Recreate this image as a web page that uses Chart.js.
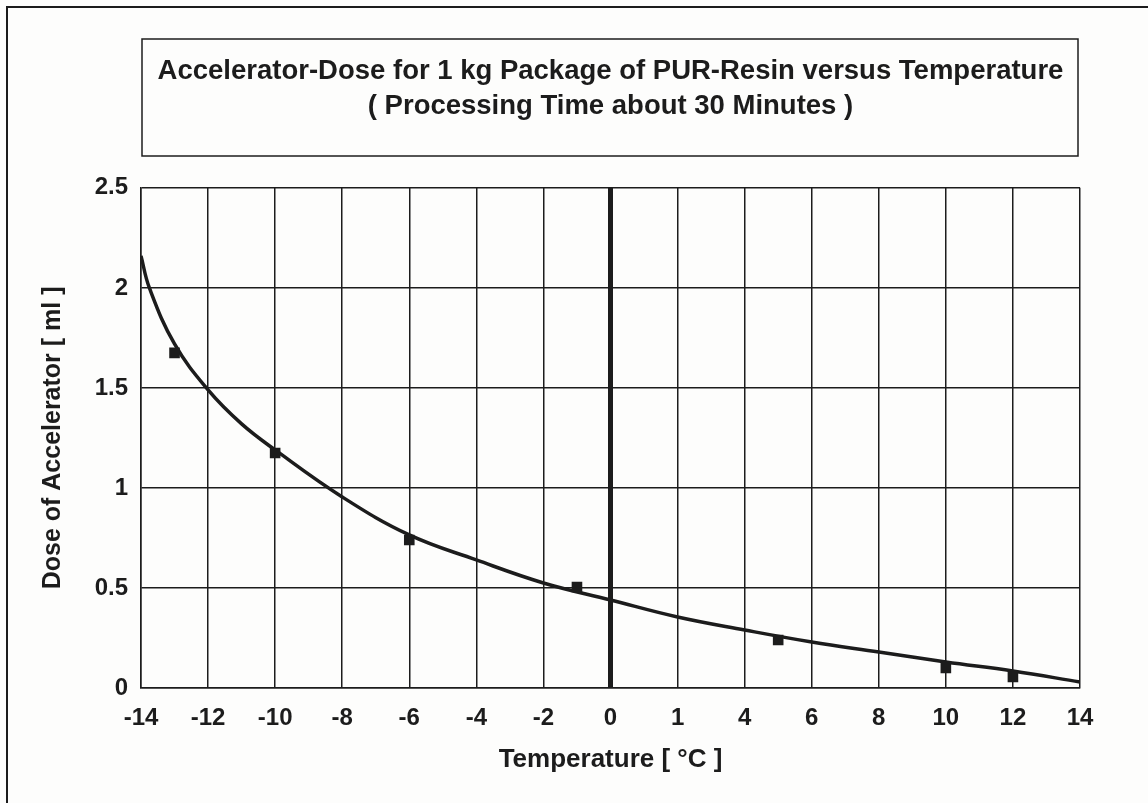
<!DOCTYPE html>
<html>
<head>
<meta charset="utf-8">
<script src="https://cdn.jsdelivr.net/npm/chart.js@4/dist/chart.umd.min.js"></script>
<style>
  html, body { margin: 0; padding: 0; background: #fdfdfc; }
  #wrap { width: 1148px; height: 803px; position: relative; }
</style>
</head>
<body>
<div id="wrap"><canvas id="c" width="1148" height="803"></canvas></div>
<script>
// ---- data ----
const titleLines = ['Accelerator-Dose for 1 kg Package of PUR-Resin versus Temperature', '( Processing Time about 30 Minutes )'];
const xAxisTitle = 'Temperature [ \u00B0C ]';
const yAxisTitle = 'Dose of Accelerator [ ml ]';
const xTickValues = [-14, -12, -10, -8, -6, -4, -2, 0, 2, 4, 6, 8, 10, 12, 14];
const xTickLabels = ['-14', '-12', '-10', '-8', '-6', '-4', '-2', '0', '1', '4', '6', '8', '10', '12', '14'];
const measuredTemps = [-13, -10, -6, -1, 5, 10, 12];
const measuredDoses = [1.675, 1.175, 0.74, 0.505, 0.24, 0.10, 0.055];
const curveTemps = [-14, -13.75, -13, -12, -11, -10, -8, -6, -4, -2, 0, 2, 4, 6, 8, 10, 12, 14];
const curveDoses = [2.16, 2.0, 1.72, 1.49, 1.32, 1.19, 0.955, 0.765, 0.64, 0.525, 0.44, 0.355, 0.29, 0.23, 0.18, 0.13, 0.085, 0.03];

const INK = '#1c1c1c';
const FONT = "'Liberation Sans', Arial, Helvetica, sans-serif";

const frame = {
  id: 'frame',
  beforeDraw(chart) {
    const ctx = chart.ctx;
    ctx.save();
    ctx.fillStyle = '#fdfdfc';
    ctx.fillRect(0, 0, chart.width, chart.height);
    ctx.strokeStyle = INK;
    ctx.lineWidth = 2;
    ctx.beginPath();
    ctx.moveTo(7, 803);
    ctx.lineTo(7, 7);
    ctx.lineTo(1148, 7);
    ctx.stroke();
    ctx.lineWidth = 1.5;
    ctx.strokeRect(142, 39, 936, 117);
    ctx.restore();
  }
};

new Chart(document.getElementById('c'), {
  type: 'scatter',
  data: {
    datasets: [
      {
        type: 'line',
        label: 'Fit',
        data: curveTemps.map((t, i) => ({ x: t, y: curveDoses[i] })),
        borderColor: INK,
        borderWidth: 3.5,
        pointRadius: 0,
        fill: false,
        tension: 0.4,
        order: 2
      },
      {
        label: 'Measured',
        data: measuredTemps.map((t, i) => ({ x: t, y: measuredDoses[i] })),
        pointStyle: 'rect',
        pointRadius: 7.5,
        backgroundColor: INK,
        borderColor: INK,
        borderWidth: 0,
        order: 1
      }
    ]
  },
  options: {
    responsive: false,
    animation: false,
    layout: { padding: { top: 54, left: 0, right: 68, bottom: 0 } },
    plugins: {
      legend: { display: false },
      tooltip: { enabled: false },
      title: {
        display: true,
        text: titleLines,
        color: INK,
        fullSize: false,
        font: { family: FONT, size: 27.5, weight: 'bold', lineHeight: 1.27 },
        padding: { top: 0, bottom: 64 }
      }
    },
    scales: {
      x: {
        type: 'linear',
        min: -14,
        max: 14,
        afterBuildTicks(scale) { scale.ticks = xTickValues.map(v => ({ value: v })); },
        afterFit(scale) { scale.height = 115; },
        grid: {
          color: INK,
          lineWidth: ctx => (ctx.tick && ctx.tick.value === 0 ? 5 : 1.5),
          drawTicks: false
        },
        border: { color: INK, width: 1.5 },
        ticks: {
          color: INK,
          padding: 16,
          maxRotation: 0,
          autoSkip: false,
          font: { family: FONT, size: 24, weight: 'bold', lineHeight: 1.2 },
          callback: v => { const i = xTickValues.indexOf(v); return i >= 0 ? xTickLabels[i] : ''; }
        },
        title: {
          display: true,
          text: xAxisTitle,
          color: INK,
          font: { family: FONT, size: 26, weight: 'bold', lineHeight: 1.2 },
          padding: { top: 0, bottom: 28 }
        }
      },
      y: {
        type: 'linear',
        min: 0,
        max: 2.5,
        ticks: {
          stepSize: 0.5,
          color: INK,
          padding: 13,
          font: { family: FONT, size: 24, weight: 'bold' },
          callback: v => String(v)
        },
        afterFit(scale) { scale.width = 141; },
        grid: { color: INK, lineWidth: 1.5, drawTicks: false },
        border: { color: INK, width: 1.5 },
        title: {
          display: true,
          text: yAxisTitle,
          color: INK,
          font: { family: FONT, size: 25, weight: 'bold', lineHeight: 1.2 },
          padding: { top: 38, bottom: 0 }
        }
      }
    }
  },
  plugins: [frame]
});
</script>
</body>
</html>
